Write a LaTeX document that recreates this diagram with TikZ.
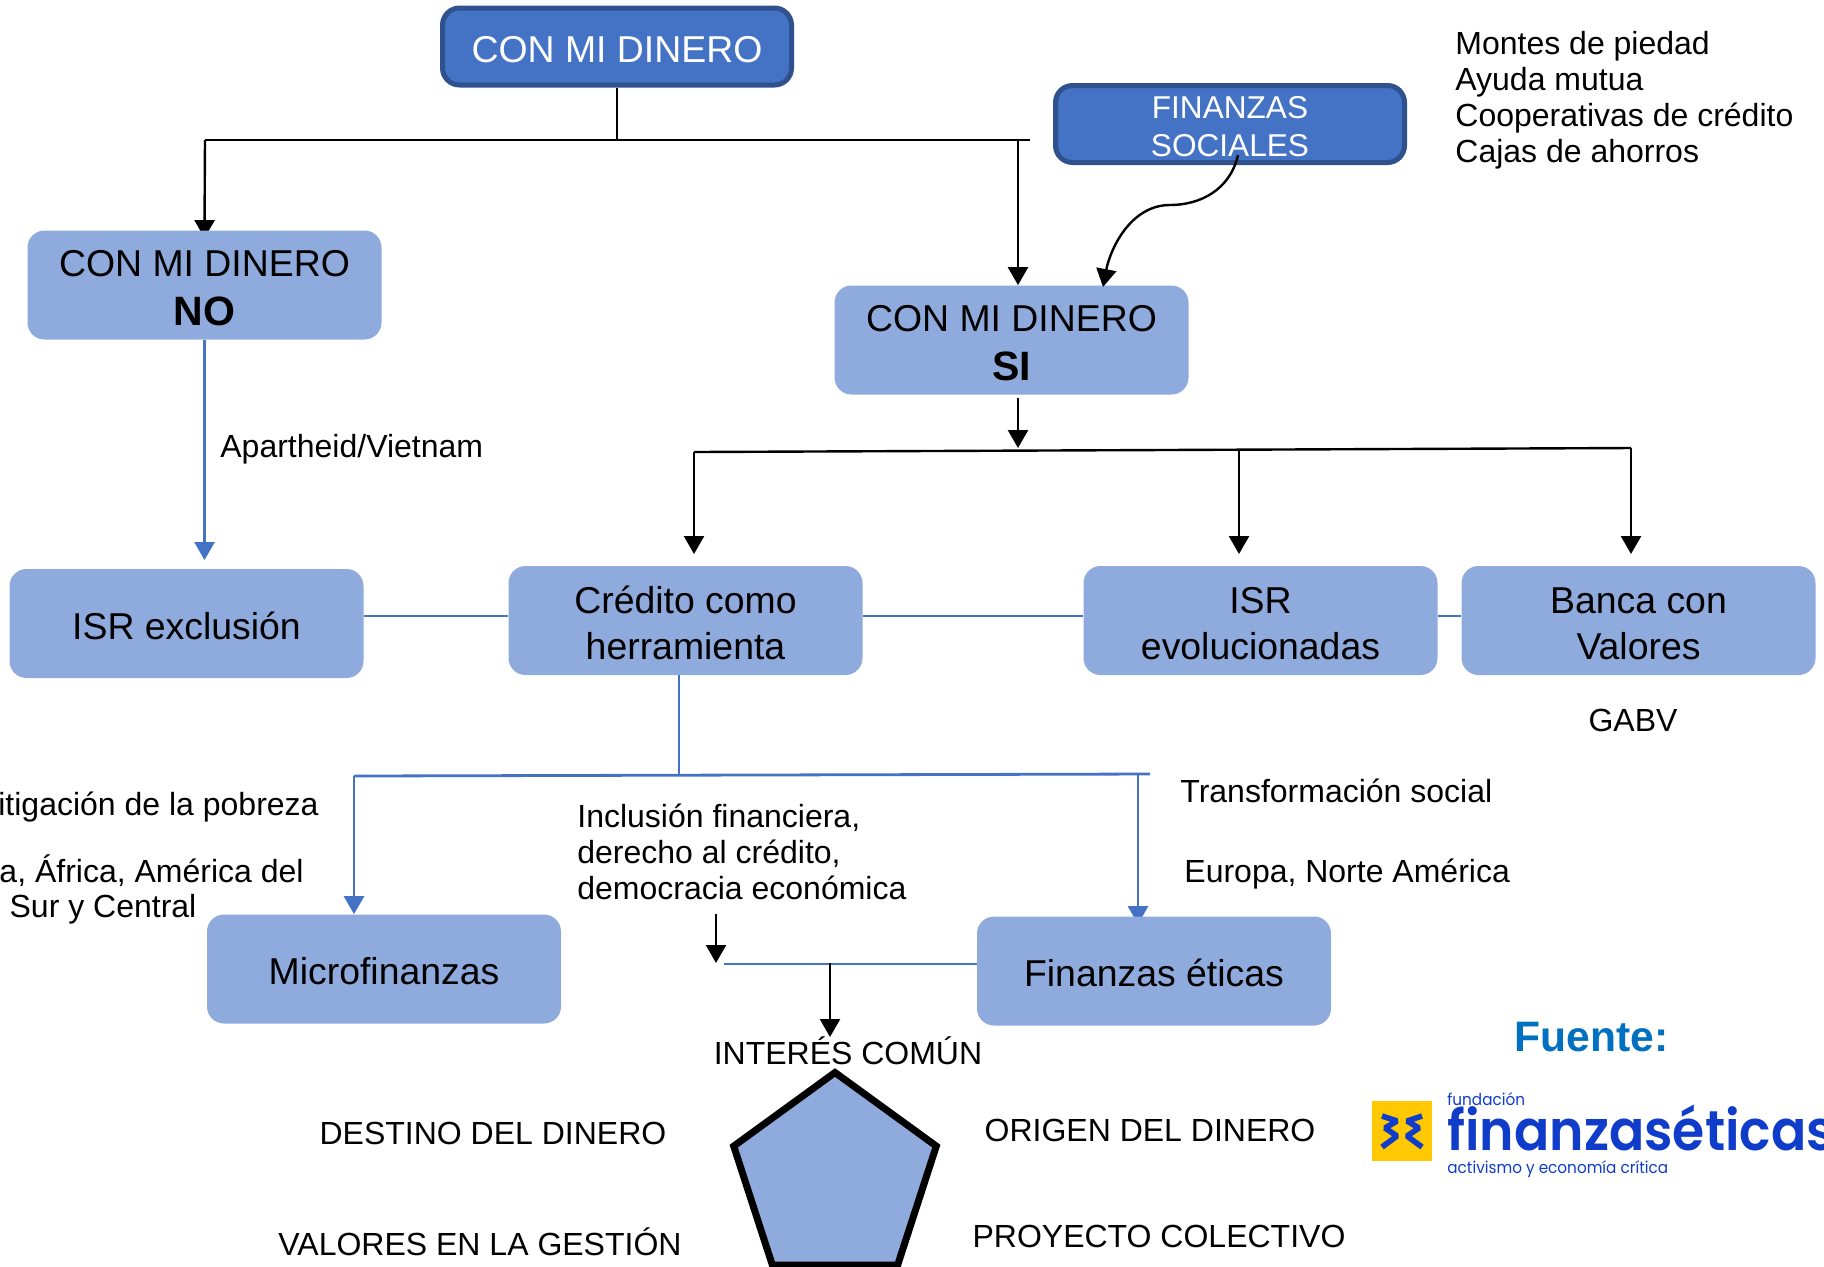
\documentclass[tikz,border=0pt]{standalone}
\usepackage{fontspec}
\setmainfont{Liberation Sans}
\newfontfamily\logofont[FakeStretch=0.93]{Poppins}
\newfontfamily\marcafont[FakeStretch=0.93]{Poppins SemiBold}
\usetikzlibrary{shapes,arrows.meta,backgrounds}
\newcommand*{\alto}{\rule{0pt}{16pt}}
\definecolor{cajaclara}{HTML}{8FAADC}
\definecolor{cajaoscura}{HTML}{4472C4}
\definecolor{bordeoscuro}{HTML}{2F528F}
\definecolor{azullogo}{HTML}{0F3CC9}
\definecolor{amarillologo}{HTML}{FFC800}
\definecolor{azulfuente}{HTML}{0070C0}

\begin{document}
\begin{tikzpicture}[x=0.5pt,y=-0.5pt]
	\tikzstyle{caja}=[rectangle, fill=cajaclara, rounded corners=8.5pt, text=black, align=center,
	minimum width=177pt, minimum height=54.5pt, inner sep=0pt, font=\fontsize{18.7}{22.7}\selectfont]
	\tikzstyle{oscura}=[caja, fill=cajaoscura, draw=bordeoscuro, line width=2.5pt, text=white]
	\tikzstyle{rotulo}=[inner sep=0pt, align=left, text=black, font=\fontsize{16}{18}\selectfont]
	\tikzstyle{negra}=[-, line width=1.2pt, black]
	\tikzstyle{azul}=[-, line width=1.4pt, cajaoscura]
	\tikzstyle{flecha}=[negra, -{Triangle[width=10pt,length=9pt]}]
	\tikzstyle{flechaazul}=[azul, -{Triangle[width=10pt,length=9pt]}]
	\useasboundingbox (0,0) rectangle (1824,1266);

	\node (Principal) [oscura, minimum width=174.5pt, minimum height=38.5pt] at (617,46.5) {\alto CON MI DINERO};
	\node (Sociales) [oscura, minimum width=174.5pt, minimum height=38.5pt, font=\fontsize{15.8}{18.6}\selectfont] at (1230,124) {\rule{0pt}{13.6pt}FINANZAS\\SOCIALES};
	\node (No) [caja] at (204.5,285) {\alto CON MI DINERO\\[1.8pt]{\fontsize{20.5}{24}\selectfont\bfseries NO}};
	\node (Si) [caja] at (1011.5,340) {\alto CON MI DINERO\\[1.8pt]{\fontsize{20.5}{24}\selectfont\bfseries SI}};
	\node (Exclusion) [caja] at (186.5,623.5) {\alto ISR exclusión};
	\node (Credito) [caja] at (685.5,620.5) {\alto Crédito como\\herramienta};
	\node (Evolucionadas) [caja] at (1260.5,620.5) {\alto ISR\\evolucionadas};
	\node (Banca) [caja] at (1638.5,620.5) {\alto Banca con\\Valores};
	\node (Micro) [caja] at (384,969) {\alto Microfinanzas};
	\node (Eticas) [caja] at (1154,971) {\alto Finanzas éticas};
	\node (Pentagono) [regular polygon, regular polygon sides=5, draw=black, fill=cajaclara, line width=3.5pt, miter limit=10,
	minimum size=106.5pt, inner sep=0pt] at (835,1179) {};

	\node (Montes) [rotulo, anchor=north west] at (1455,31) {Montes de piedad\\Ayuda mutua\\Cooperativas de crédito\\Cajas de ahorros};
	\node (Apartheid) [rotulo, anchor=west] at (220,449) {Apartheid/Vietnam};
	\node (Gabv) [rotulo] at (1633,720) {GABV};
	\node (Mitigacion) [rotulo, anchor=east] at (319,807) {Mitigación de la pobreza};
	\node (Asia) [rotulo, anchor=east] at (304,871) {Asia, África, América del};
	\node (Sur) [rotulo] at (103,909) {Sur y Central};
	\node (Inclusion) [rotulo, anchor=north west] at (577,804) {Inclusión financiera,\\derecho al crédito,\\democracia económica};
	\node (Transformacion) [rotulo, anchor=west] at (1180,791) {Transformación social};
	\node (Europa) [rotulo, anchor=west] at (1184,874) {Europa, Norte América};
	\node (Interes) [rotulo] at (848,1051) {INTERÉS COMÚN};
	\node (Destino) [rotulo] at (493,1133) {DESTINO DEL DINERO};
	\node (Valores) [rotulo] at (480,1242) {VALORES EN LA GESTIÓN};
	\node (Origen) [rotulo] at (1150,1130) {ORIGEN DEL DINERO};
	\node (Proyecto) [rotulo] at (1159,1236) {PROYECTO COLECTIVO};

	\node (Fuente) [anchor=base west, inner sep=0pt, text=azulfuente, font=\fontsize{21.3}{24}\selectfont\bfseries] at (1514,1051) {Fuente:};
	\node (Cuadro) [rectangle, fill=amarillologo, minimum size=30pt, inner sep=0pt] at (1402,1131) {};
	\node (Fundacion) [anchor=base west, inner sep=0pt, text=azullogo, font=\logofont\fontsize{8.2}{10}\selectfont] at (1447,1105) {fundación};
	\node (Marca) [anchor=base west, inner sep=0pt, text=azullogo, font=\marcafont\fontsize{28}{34}\selectfont] at (1447,1150) {finanzaséticas};
	\node (Activismo) [anchor=base west, inner sep=0pt, text=azullogo, font=\logofont\fontsize{8.2}{10}\selectfont] at (1447,1173) {activismo y economía crítica};
	\draw[azullogo, line width=2.8pt, line join=bevel] (1382,1116) -- (1397,1121) -- (1385,1128) -- (1397,1136) -- (1382,1147);
	\draw[azullogo, line width=2.8pt, line join=bevel] (1422,1116) -- (1407,1121) -- (1419,1128) -- (1407,1136) -- (1422,1147);

	\coordinate (TopeIzq) at (205,140);
	\coordinate (TopeDer) at (1030,140);
	\coordinate (BajaSi) at (1018,140);
	\coordinate (SalidaSociales) at (1238,155);
	\coordinate (EntradaSi) at (1103,287);
	\coordinate (SobreBus) at (1018,398);
	\coordinate (FinBus) at (1018,448);
	\coordinate (BusIzq) at (694,452);
	\coordinate (BusDer) at (1631,448);
	\coordinate (BusMedio) at (1239,450);
	\coordinate (FilaCajas) at (0,616);
	\coordinate (AzulIzq) at (354,776);
	\coordinate (AzulDer) at (1150,774);
	\coordinate (AzulCentro) at (679,775);
	\coordinate (AzulBaja) at (1138,774);
	\coordinate (FinCorta) at (724,964);
	\coordinate (CortaIni) at (716,914);
	\coordinate (CortaFin) at (716,963);
	\coordinate (ComunIni) at (830,963);
	\coordinate (ComunFin) at (830,1037);

	\draw[negra] (Principal.south) -- (Principal.south |- TopeIzq);
	\draw[negra] (TopeIzq) -- (TopeDer);
	\begin{scope}[on background layer]
		\draw[flecha, shorten >=-4pt] (TopeIzq) -- (No.north);
		\draw[flechaazul, shorten >=-4pt] (AzulBaja) -- (AzulBaja |- Eticas.north);
	\end{scope}
	\draw[flecha] (BajaSi) -- (BajaSi |- Si.north);
	\draw[flecha] (SalidaSociales) .. controls (1230,190) and (1200,205) .. (1170,205) .. controls (1130,205) and (1110,250) .. (EntradaSi);
	\draw[flecha] (SobreBus) -- (FinBus);
	\draw[negra] (BusIzq) -- (BusDer);
	\draw[flecha] (BusIzq) -- (BusIzq |- 0,554);
	\draw[flecha] (BusMedio) -- (BusMedio |- 0,554);
	\draw[flecha] (BusDer) -- (BusDer |- 0,554);

	\draw[flechaazul] (No.south) -- (No.south |- 0,560);
	\draw[azul] (Exclusion.east |- FilaCajas) -- (Credito.west |- FilaCajas);
	\draw[azul] (Credito.east |- FilaCajas) -- (Evolucionadas.west |- FilaCajas);
	\draw[azul] (Evolucionadas.east |- FilaCajas) -- (Banca.west |- FilaCajas);
	\draw[azul] (Credito.south -| AzulCentro) -- (AzulCentro);
	\draw[azul] (AzulIzq) -- (AzulDer);
	\draw[flechaazul] (AzulIzq) -- (AzulIzq |- Micro.north);
	\draw[azul] (FinCorta) -- (Eticas.west |- FinCorta);
	\draw[flecha] (CortaIni) -- (CortaFin);
	\draw[flecha] (ComunIni) -- (ComunFin);
\end{tikzpicture}
\end{document}
